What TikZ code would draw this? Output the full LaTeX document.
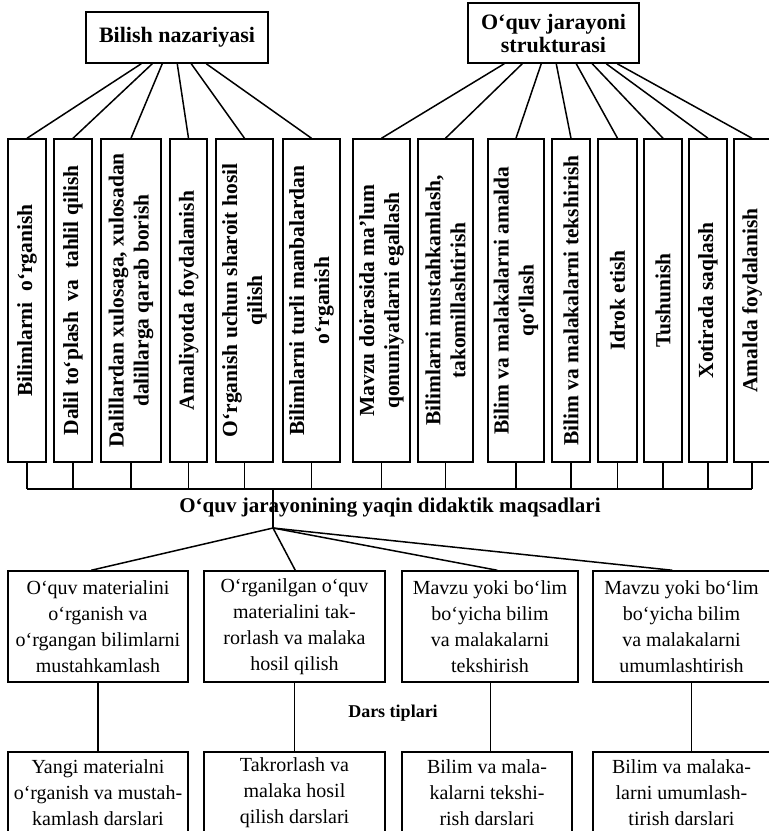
\documentclass[tikz,border=0pt]{standalone}
\usepackage{fontspec}
\setmainfont{Liberation Serif}
\tikzset{
  box/.style={draw, line width=1.5pt, inner sep=0pt},
  conn/.style={line width=1.5pt},
  vcolbox/.style={box, rotate=90, minimum width=323pt, align=center,
    font=\fontsize{21.5}{25}\selectfont\bfseries},
  topbox/.style={box, align=center, font=\fontsize{22}{23}\selectfont\bfseries},
  midbox/.style={box, align=center, minimum height=111pt, font=\fontsize{20}{26}\selectfont},
  botbox/.style={box, align=center, minimum height=82pt, font=\fontsize{20}{26}\selectfont},
}
\begin{document}
\begin{tikzpicture}[x=1pt,y=-1pt]
\useasboundingbox (0,0) rectangle (769,831);
\clip (0,0) rectangle (769,831);

% top boxes
\node[topbox, minimum width=182pt, minimum height=51pt] (t1) at (177,37.5) {Bilish nazariyasi};
\node[topbox, minimum width=171pt, minimum height=60pt] (t2) at (553.5,33) {O‘quv jarayoni\\strukturasi};

% vertical boxes
\node[vcolbox, minimum height=38pt] (v1) at (27,300.5) {Bilimlarni\ \ o‘rganish};
\node[vcolbox, minimum height=38pt] (v2) at (73,300.5) {Dalil to‘plash\ \ va\ \ tahlil qilish};
\node[vcolbox, minimum height=60pt] (v3) at (131,300.5) {Dalillardan xulosaga, xulosadan\\dalillarga qarab borish};
\node[vcolbox, minimum height=37pt] (v4) at (188.5,300.5) {Amaliyotda foydalanish};
\node[vcolbox, minimum height=57pt] (v5) at (244.5,300.5) {O‘rganish uchun sharoit hosil\\qilish};
\node[vcolbox, minimum height=57pt] (v6) at (311.5,300.5) {Bilimlarni turli manbalardan\\o‘rganish};
\node[vcolbox, minimum height=57pt] (v7) at (381.5,300.5) {Mavzu doirasida ma’lum\\qonuniyatlarni egallash};
\node[vcolbox, minimum height=55pt] (v8) at (445.5,300.5) {Bilimlarni mustahkamlash,\\takomillashtirish};
\node[vcolbox, minimum height=56pt] (v9) at (516,300.5) {Bilim va malakalarni amalda\\qo‘llash};
\node[vcolbox, minimum height=38pt] (v10) at (571,300.5) {Bilim va malakalarni tekshirish};
\node[vcolbox, minimum height=39pt] (v11) at (617.5,300.5) {Idrok etish};
\node[vcolbox, minimum height=38pt] (v12) at (663,300.5) {Tushunish};
\node[vcolbox, minimum height=38pt] (v13) at (708,300.5) {Xotirada saqlash};
\node[vcolbox, minimum height=36pt] (v14) at (752,300.5) {Amalda foydalanish};

% connectors from top boxes
\foreach \o/\v in {56/1,67/2,77/3,92/4,106/5,121/6}
  \draw[conn] ([xshift=\o pt]t1.south west) -- (v\v.east);
\foreach \o/\v in {37/7,55/8,74/9,89/10,109/11,125/12,139/13,150/14}
  \draw[conn] ([xshift=\o pt]t2.south west) -- (v\v.east);

% bracket
\coordinate (bar) at (0,489);
\foreach \v in {1,...,14}
  \draw[conn] (v\v.west) -- (v\v.west |- bar);
\draw[conn] (v1.west |- bar) -- (v14.west |- bar);

% caption
\node[font=\fontsize{21}{25}\selectfont\bfseries, inner sep=0pt] (cap) at (390,508) {O‘quv jarayonining yaqin didaktik maqsadlari};
\coordinate (hub) at (273,528);
\draw[conn] (hub |- bar) -- (hub);

% middle boxes
\node[midbox, minimum width=180pt] (m1) at (98,626.5) {O‘quv materialini\\o‘rganish va\\o‘rgangan bilimlarni\\mustahkamlash};
\node[midbox, minimum width=181pt] (m2) at (294.5,626.5) {O‘rganilgan o‘quv\\materialini tak-\\rorlash va malaka\\hosil qilish};
\node[midbox, minimum width=176pt] (m3) at (490,626.5) {Mavzu yoki bo‘lim\\bo‘yicha bilim\\va malakalarni\\tekshirish};
\node[midbox, minimum width=177pt] (m4) at (681.5,626.5) {Mavzu yoki bo‘lim\\bo‘yicha bilim\\va malakalarni\\umumlashtirish};

\draw[conn] (hub) -- ([xshift=84pt]m1.north west);
\draw[conn] (hub) -- ([xshift=92pt]m2.north west);
\draw[conn] (hub) -- ([xshift=96pt]m3.north west);
\draw[conn] (hub) -- ([xshift=80pt]m4.north west);

\node[font=\fontsize{18}{20}\selectfont\bfseries] (dars) at (393,713) {Dars tiplari};

% bottom boxes
\node[botbox, minimum width=180pt] (b1) at (98,793) {Yangi materialni\\o‘rganish va mustah-\\kamlash darslari};
\node[botbox, minimum width=181pt] (b2) at (294.5,793) {Takrorlash va\\malaka hosil\\qilish darslari};
\node[botbox, minimum width=170pt] (b3) at (487,793) {Bilim va mala-\\kalarni tekshi-\\rish darslari};
\node[botbox, minimum width=177pt] (b4) at (681.5,793) {Bilim va malaka-\\larni umumlash-\\tirish darslari};

\draw[conn] (m1.south) -- (b1.north);
\draw[conn] (m2.south) -- (b2.north);
\draw[conn] ([xshift=89pt]m3.south west) -- ([xshift=89pt]m3.south west |- b3.north);
\draw[conn] ([xshift=99pt]m4.south west) -- ([xshift=99pt]m4.south west |- b4.north);
\end{tikzpicture}
\end{document}
